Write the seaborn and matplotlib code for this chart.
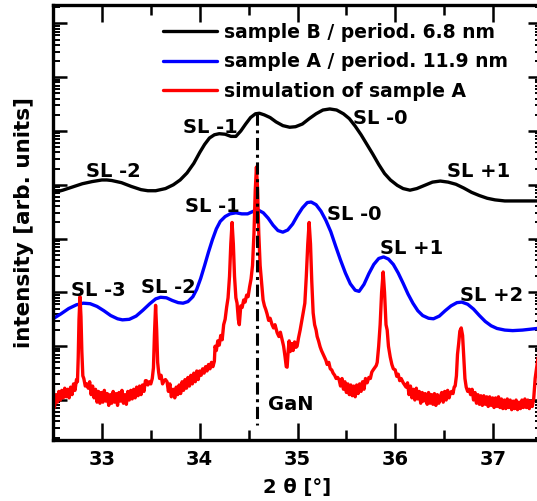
import numpy as np
import matplotlib
matplotlib.use("Agg")
import matplotlib.pyplot as plt
from matplotlib.ticker import LogLocator, MultipleLocator, NullFormatter
import seaborn as sns

# --- data (intensities as log10 of arb. units) ---
sample_b_x = [32.50, 32.60, 32.70, 32.80, 32.90, 33.00, 33.05, 33.10, 33.20, 33.30,
              33.40, 33.47, 33.55, 33.65, 33.73, 33.80, 33.87, 33.94, 34.00, 34.05,
              34.10, 34.15, 34.20, 34.26, 34.32, 34.37, 34.42, 34.47, 34.52, 34.57,
              34.61, 34.66, 34.72, 34.78, 34.85, 34.92, 34.98, 35.05, 35.12, 35.19,
              35.26, 35.33, 35.40, 35.47, 35.53, 35.59, 35.65, 35.71, 35.77, 35.83,
              35.89, 35.95, 36.02, 36.08, 36.15, 36.22, 36.30, 36.38, 36.46, 36.54,
              36.62, 36.70, 36.78, 36.86, 36.94, 37.02, 37.12, 37.25, 37.45]
sample_b_log = [3.85, 3.90, 3.96, 4.02, 4.06, 4.09, 4.09, 4.08, 4.04, 3.97,
                3.91, 3.89, 3.89, 3.93, 4.00, 4.09, 4.22, 4.40, 4.60, 4.75,
                4.87, 4.93, 4.95, 4.94, 4.90, 4.90, 5.00, 5.13, 5.25, 5.32,
                5.33, 5.30, 5.25, 5.17, 5.10, 5.07, 5.08, 5.13, 5.23, 5.32,
                5.39, 5.41, 5.39, 5.32, 5.23, 5.09, 4.93, 4.75, 4.57, 4.38,
                4.21, 4.09, 3.99, 3.93, 3.90, 3.93, 3.99, 4.05, 4.07, 4.05,
                4.01, 3.94, 3.86, 3.80, 3.75, 3.72, 3.70, 3.70, 3.70]

sample_a_x = [32.50, 32.58, 32.66, 32.74, 32.81, 32.88, 32.95, 33.02, 33.09, 33.16,
              33.21, 33.28, 33.35, 33.42, 33.49, 33.55, 33.60, 33.66, 33.72, 33.78,
              33.83, 33.88, 33.93, 33.97, 34.01, 34.05, 34.09, 34.13, 34.17, 34.21,
              34.26, 34.31, 34.37, 34.43, 34.49, 34.55, 34.60, 34.65, 34.70, 34.75,
              34.80, 34.85, 34.90, 34.95, 35.00, 35.05, 35.10, 35.14, 35.19, 35.24,
              35.29, 35.34, 35.39, 35.44, 35.49, 35.54, 35.59, 35.63, 35.68, 35.73,
              35.78, 35.83, 35.88, 35.93, 35.98, 36.03, 36.08, 36.13, 36.18, 36.23,
              36.28, 36.34, 36.39, 36.45, 36.51, 36.57, 36.63, 36.68, 36.74, 36.80,
              36.86, 36.92, 36.98, 37.04, 37.12, 37.20, 37.30, 37.45]
sample_a_log = [1.51, 1.60, 1.70, 1.77, 1.80, 1.79, 1.74, 1.66, 1.57, 1.51,
                1.49, 1.50, 1.56, 1.67, 1.79, 1.88, 1.91, 1.90, 1.85, 1.81,
                1.80, 1.83, 1.92, 2.06, 2.26, 2.50, 2.75, 2.98, 3.18, 3.32,
                3.41, 3.46, 3.48, 3.46, 3.46, 3.51, 3.53, 3.48, 3.38, 3.25,
                3.15, 3.12, 3.16, 3.27, 3.43, 3.57, 3.67, 3.68, 3.63, 3.51,
                3.34, 3.13, 2.86, 2.60, 2.36, 2.16, 2.04, 2.02, 2.15, 2.35,
                2.52, 2.63, 2.66, 2.62, 2.52, 2.36, 2.17, 1.97, 1.80, 1.66,
                1.57, 1.52, 1.51, 1.56, 1.66, 1.75, 1.81, 1.82, 1.78, 1.69,
                1.57, 1.46, 1.38, 1.33, 1.30, 1.29, 1.30, 1.33]

sim_x = [32.500, 32.515, 32.530, 32.545, 32.560, 32.575, 32.590, 32.605, 32.620, 32.635,
         32.650, 32.665, 32.680, 32.695, 32.710, 32.725, 32.740, 32.750, 32.758, 32.766,
         32.776, 32.786, 32.795, 32.805, 32.815, 32.830, 32.845, 32.860, 32.875, 32.890,
         32.905, 32.920, 32.935, 32.950, 32.965, 32.980, 32.995, 33.010, 33.025, 33.040,
         33.055, 33.070, 33.085, 33.100, 33.115, 33.130, 33.145, 33.160, 33.175, 33.190,
         33.205, 33.220, 33.235, 33.250, 33.265, 33.280, 33.295, 33.310, 33.325, 33.340,
         33.355, 33.370, 33.385, 33.400, 33.415, 33.430, 33.445, 33.455, 33.470, 33.485,
         33.500, 33.515, 33.527, 33.537, 33.549, 33.560, 33.570, 33.580, 33.590, 33.605,
         33.620, 33.635, 33.650, 33.666, 33.680, 33.695, 33.710, 33.728, 33.745, 33.760,
         33.775, 33.790, 33.805, 33.820, 33.835, 33.850, 33.865, 33.880, 33.895, 33.910,
         33.925, 33.940, 33.955, 33.970, 33.985, 34.000, 34.015, 34.030, 34.045, 34.060,
         34.075, 34.090, 34.105, 34.120, 34.135, 34.150, 34.157, 34.170, 34.185, 34.200,
         34.215, 34.230, 34.245, 34.260, 34.275, 34.290, 34.305, 34.318, 34.331, 34.344,
         34.356, 34.370, 34.382, 34.395, 34.405, 34.420, 34.434, 34.450, 34.464, 34.480,
         34.495, 34.510, 34.525, 34.540, 34.555, 34.568, 34.580, 34.592, 34.604, 34.618,
         34.632, 34.648, 34.662, 34.676, 34.689, 34.705, 34.720, 34.740, 34.755, 34.770,
         34.792, 34.810, 34.825, 34.843, 34.858, 34.873, 34.885, 34.894, 34.905, 34.915,
         34.925, 34.940, 34.955, 34.970, 34.985, 34.996, 35.010, 35.027, 35.045, 35.058,
         35.075, 35.090, 35.105, 35.119, 35.133, 35.146, 35.160, 35.175, 35.190, 35.201,
         35.215, 35.231, 35.245, 35.260, 35.275, 35.290, 35.303, 35.320, 35.335, 35.350,
         35.364, 35.380, 35.395, 35.410, 35.425, 35.440, 35.455, 35.470, 35.485, 35.500,
         35.515, 35.530, 35.545, 35.560, 35.575, 35.590, 35.605, 35.620, 35.635, 35.650,
         35.665, 35.680, 35.695, 35.712, 35.730, 35.745, 35.760, 35.774, 35.790, 35.805,
         35.815, 35.830, 35.845, 35.860, 35.876, 35.890, 35.905, 35.917, 35.930, 35.948,
         35.965, 35.980, 35.999, 36.015, 36.030, 36.045, 36.060, 36.081, 36.095, 36.110,
         36.125, 36.140, 36.155, 36.170, 36.183, 36.200, 36.215, 36.230, 36.245, 36.260,
         36.275, 36.290, 36.305, 36.326, 36.340, 36.355, 36.370, 36.385, 36.400, 36.415,
         36.430, 36.445, 36.459, 36.475, 36.490, 36.505, 36.520, 36.535, 36.550, 36.561,
         36.575, 36.590, 36.602, 36.612, 36.625, 36.636, 36.648, 36.660, 36.674, 36.688,
         36.700, 36.712, 36.725, 36.740, 36.755, 36.770, 36.785, 36.800, 36.815, 36.830,
         36.845, 36.860, 36.875, 36.890, 36.905, 36.920, 36.935, 36.950, 36.965, 36.980,
         36.995, 37.010, 37.025, 37.040, 37.055, 37.070, 37.085, 37.100, 37.115, 37.130,
         37.145, 37.160, 37.175, 37.190, 37.205, 37.220, 37.235, 37.250, 37.265, 37.280,
         37.295, 37.310, 37.325, 37.340, 37.355, 37.370, 37.385, 37.400, 37.415, 37.430,
         37.445, 37.460]
sim_log = [0.04, -0.14, 0.10, -0.04, 0.16, 0.00, 0.18, 0.04, 0.22, 0.06,
           0.20, 0.04, 0.24, 0.10, 0.30, 0.18, 0.38, 0.34, 0.80, 1.50,
           1.92, 1.55, 0.90, 0.45, 0.40, 0.26, 0.30, 0.22, 0.34, 0.10,
           0.26, 0.04, 0.20, -0.04, 0.16, -0.06, 0.14, -0.04, 0.18, -0.02,
           0.12, -0.10, 0.10, -0.06, 0.16, -0.04, 0.12, -0.10, 0.14, -0.02,
           0.18, -0.06, 0.10, -0.08, 0.16, 0.00, 0.18, 0.02, 0.20, 0.04,
           0.24, 0.08, 0.26, 0.10, 0.28, 0.16, 0.36, 0.36, 0.28, 0.34,
           0.30, 0.40, 0.60, 1.20, 1.76, 1.30, 0.70, 0.52, 0.40, 0.46,
           0.30, 0.36, 0.38, 0.34, 0.16, 0.30, 0.06, 0.20, 0.04, 0.24,
           0.10, 0.28, 0.12, 0.34, 0.18, 0.38, 0.22, 0.42, 0.26, 0.46,
           0.30, 0.50, 0.34, 0.54, 0.38, 0.54, 0.46, 0.58, 0.50, 0.62,
           0.54, 0.66, 0.58, 0.70, 0.62, 0.72, 1.00, 0.92, 1.10, 1.02,
           1.20, 1.12, 1.40, 1.50, 1.72, 1.90, 2.30, 2.90, 3.30, 2.90,
           2.30, 1.90, 1.80, 1.50, 1.40, 1.75, 1.72, 1.86, 1.82, 1.95,
           1.92, 2.10, 2.25, 2.50, 3.10, 3.90, 4.33, 3.90, 3.10, 2.50,
           2.20, 1.86, 1.75, 1.68, 1.60, 1.48, 1.52, 1.40, 1.34, 1.40,
           1.25, 1.18, 1.26, 1.12, 1.00, 0.80, 0.62, 0.61, 0.92, 1.10,
           0.90, 1.05, 0.92, 1.08, 0.98, 1.00, 1.15, 1.30, 1.48, 1.62,
           1.80, 2.30, 2.90, 3.30, 2.90, 2.20, 1.62, 1.40, 1.30, 1.18,
           1.10, 0.99, 0.92, 0.86, 0.80, 0.74, 0.66, 0.70, 0.58, 0.56,
           0.50, 0.46, 0.40, 0.42, 0.38, 0.26, 0.40, 0.20, 0.34, 0.14,
           0.30, 0.10, 0.28, 0.08, 0.26, 0.06, 0.28, 0.12, 0.30, 0.16,
           0.34, 0.20, 0.40, 0.32, 0.42, 0.40, 0.52, 0.56, 0.60, 0.64,
           0.70, 1.00, 1.40, 2.00, 2.38, 2.00, 1.40, 1.30, 1.00, 0.80,
           0.66, 0.58, 0.56, 0.44, 0.48, 0.36, 0.40, 0.32, 0.28, 0.24,
           0.32, 0.10, 0.26, 0.04, 0.20, 0.00, 0.22, 0.02, 0.16, -0.06,
           0.14, -0.02, 0.12, -0.08, 0.14, -0.06, 0.10, -0.08, 0.12, -0.10,
           0.10, -0.06, 0.06, 0.14, -0.04, 0.16, 0.00, 0.18, 0.04, 0.12,
           0.16, 0.12, 0.24, 0.26, 0.45, 0.85, 1.05, 1.28, 1.34, 1.20,
           0.80, 0.40, 0.24, 0.16, 0.20, 0.10, 0.20, 0.00, 0.14, -0.06,
           0.10, -0.08, 0.08, -0.10, 0.08, -0.08, 0.06, -0.12, 0.06, -0.10,
           0.04, -0.14, 0.04, -0.12, 0.06, -0.14, 0.02, -0.16, 0.00, -0.16,
           0.02, -0.14, 0.00, -0.18, -0.02, -0.16, 0.00, -0.18, -0.04, -0.16,
           0.00, -0.14, 0.02, -0.14, 0.00, -0.16, -0.02, -0.12, 0.02, 0.40,
           0.60, 0.80]

gan_pos = 34.59
gan_top_log = 5.33

# peak labels: (text, x, log10 y)
peak_labels = [
    ("SL -2", 33.12, 4.24), ("SL -1", 34.11, 5.06), ("SL -0", 35.85, 5.24), ("SL +1", 36.85, 4.24),
    ("SL -3", 32.96, 2.04), ("SL -2", 33.68, 2.10), ("SL -1", 34.13, 3.59), ("SL -0", 35.58, 3.44),
    ("SL +1", 36.17, 2.81), ("SL +2", 36.98, 1.95), ("GaN", 34.93, -0.09),
]

sns.set_theme(style="ticks")
plt.rcParams["font.family"] = ["DejaVu Sans"]
plt.rcParams["font.weight"] = "bold"
plt.rcParams["text.color"] = "black"
plt.rcParams["axes.labelcolor"] = "black"
plt.rcParams["xtick.color"] = "black"
plt.rcParams["ytick.color"] = "black"

fig = plt.figure(figsize=(5.37, 5.01), dpi=100)
ax = fig.add_axes([53 / 537, 61 / 501, 489 / 537, 435 / 501])

sns.lineplot(x=sample_b_x, y=10 ** np.array(sample_b_log), ax=ax, color="black", lw=2.4,
             label="sample B / period. 6.8 nm")
sns.lineplot(x=sample_a_x, y=10 ** np.array(sample_a_log), ax=ax, color="#0000ff", lw=2.4,
             label="sample A / period. 11.9 nm")
sns.lineplot(x=sim_x, y=10 ** np.array(sim_log), ax=ax, color="#ff0000", lw=2.4,
             label="simulation of sample A")

ax.set_yscale("log")
ax.set_xlim(32.5, 37.5)
ax.set_ylim(10 ** -0.743, 10 ** 7.342)

# GaN reference line
ax.plot([gan_pos, gan_pos], [10 ** gan_top_log, 10 ** -0.465], color="black", lw=2.2,
        ls=(0, (4, 1.5, 1, 1.5)), zorder=5)

for txt, x, ly in peak_labels:
    ax.text(x, 10 ** ly, txt, ha="center", va="center", fontsize=14, fontweight="bold",
            color="black")

ax.xaxis.set_major_locator(MultipleLocator(1))
ax.xaxis.set_minor_locator(MultipleLocator(0.5))
ax.yaxis.set_major_locator(LogLocator(base=10, numticks=20))
ax.yaxis.set_minor_locator(LogLocator(base=10, subs=np.arange(2, 10), numticks=20))
ax.yaxis.set_major_formatter(NullFormatter())
ax.yaxis.set_minor_formatter(NullFormatter())

ax.tick_params(axis="x", which="major", direction="in", length=12, width=1.8, top=True,
               labelsize=14, pad=7, colors="black")
ax.tick_params(axis="x", which="minor", direction="in", length=7, width=1.8, top=True)
ax.tick_params(axis="y", which="major", direction="in", length=10, width=1.8, right=True)
ax.tick_params(axis="y", which="minor", direction="in", length=5, width=1.4, right=True)
for lab in ax.get_xticklabels():
    lab.set_fontweight("bold")
for sp in ax.spines.values():
    sp.set_linewidth(2.4)
    sp.set_color("black")

ax.set_xlabel("2 θ [°]", fontsize=14, fontweight="bold", labelpad=7, color="black")
ax.set_ylabel("intensity [arb. units]", fontsize=15.5, fontweight="bold", labelpad=10,
              color="black")

leg = ax.legend(loc="upper left", bbox_to_anchor=(163 / 537, 1 - 23 / 501),
                bbox_transform=fig.transFigure, frameon=False, labelspacing=0.55,
                handlelength=2.9, handletextpad=0.35, borderpad=0, borderaxespad=0,
                prop={"weight": "bold", "size": 13.5})
for t in leg.get_texts():
    t.set_color("black")

fig.savefig("out.png", dpi=100)
